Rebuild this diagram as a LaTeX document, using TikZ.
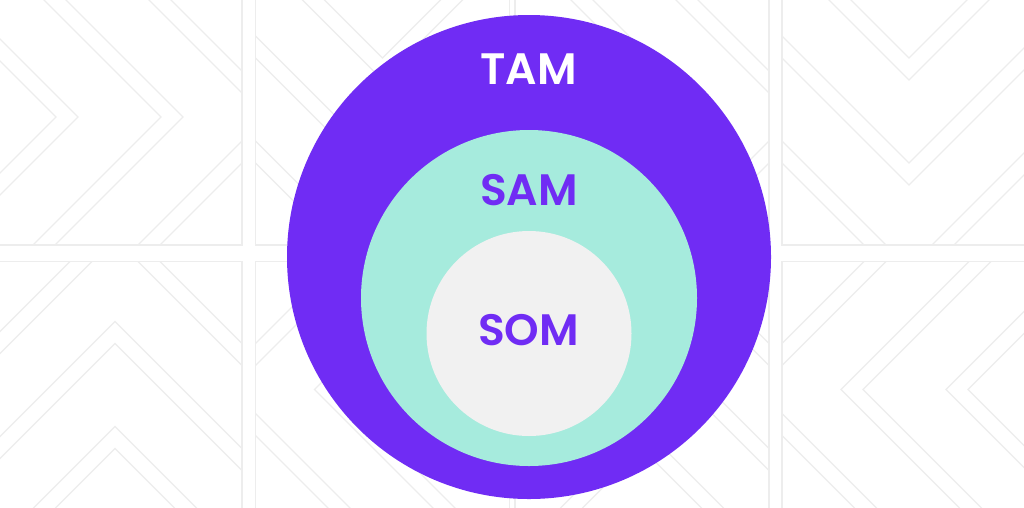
\documentclass[tikz,border=0pt]{standalone}
\usepackage{fontspec}
\setmainfont{Poppins}
\newfontfamily\marketfont{Poppins SemiBold}
\usepackage{tikz}
\usetikzlibrary{shapes.geometric}
\definecolor{violet}{HTML}{702CF4}
\definecolor{aqua}{HTML}{A6EBDD}
\definecolor{pale}{HTML}{F1F1F1}
\definecolor{faint}{HTML}{EDEDED}
\pgfdeclarelayer{nodelayer}
\pgfdeclarelayer{edgelayer}
\pgfsetlayers{edgelayer,nodelayer,main}
\tikzstyle{tileline}=[draw=faint, line width=1.3pt]
\tikzstyle{tam}=[shape=circle, fill=violet, inner sep=0pt, minimum size=484pt]
\tikzstyle{sam}=[shape=circle, fill=aqua, inner sep=0pt, minimum size=336pt]
\tikzstyle{som}=[shape=circle, fill=pale, inner sep=0pt, minimum size=205pt]
\tikzstyle{marketname}=[inner sep=0pt, font=\marketfont\fontsize{44}{44}\selectfont]

\begin{document}
\begin{tikzpicture}[x=1pt, y=-1pt]
	\useasboundingbox (0,0) rectangle (1024,507);
	\begin{pgfonlayer}{edgelayer}
		\fill[white] (0,0) rectangle (1024,507);
		% chevron tiles: centre x / centre y / turn
		\foreach \cx/\cy/\rot in {115/117/0, 382.5/117/-90, 642/117/0, 909/117/-90,
		                          115/389.5/90, 382.5/389.5/180, 642/389.5/90, 909/389.5/180}{
			\begin{scope}
				\clip (\cx-127,\cy-128) rectangle (\cx+127,\cy+128);
				\begin{scope}[shift={(\cx,\cy)}, rotate=\rot]
					\foreach \u in {-164,-142,-59,-37,46,68,151,173}
						\draw[tileline] (\u-260,-260) -- (\u,0) -- (\u-260,260);
				\end{scope}
			\end{scope}
			\draw[tileline] (\cx-127,\cy-128) rectangle (\cx+127,\cy+128);
		}
	\end{pgfonlayer}
	\begin{pgfonlayer}{nodelayer}
		\node [style=tam] (0) at (529, 257) {};
		\node [style=sam] (1) at (529, 298) {};
		\node [style=som] (2) at (529, 333.5) {};
	\end{pgfonlayer}
	\node [style=marketname, text=white] (3) at (528.5, 69) {TAM};
	\node [style=marketname, text=violet] (4) at (529, 190) {SAM};
	\node [style=marketname, text=violet] (5) at (528.5, 330) {SOM};
\end{tikzpicture}
\end{document}
